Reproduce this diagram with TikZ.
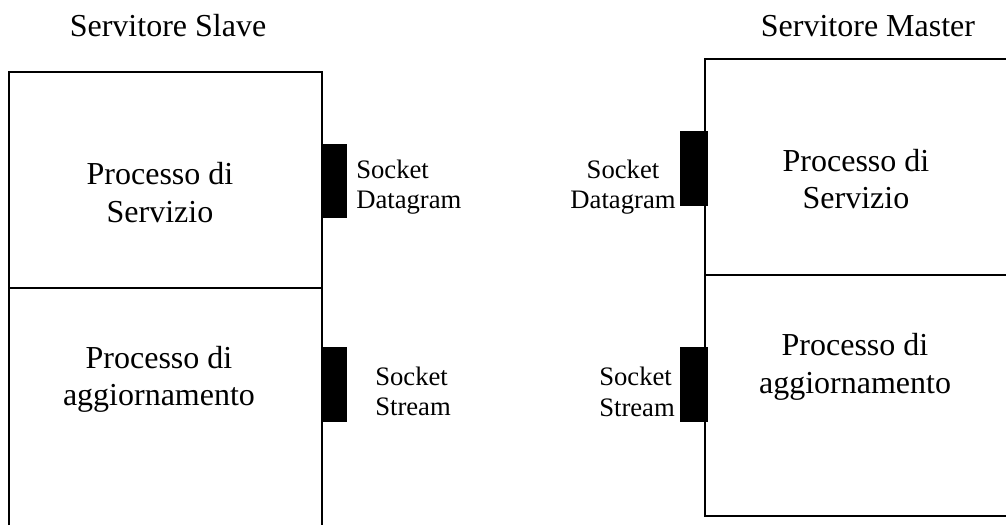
\documentclass[tikz,border=0pt]{standalone}
\usepackage{fontspec}
\setmainfont{Liberation Serif}
\begin{document}
\begin{tikzpicture}[x=0.75pt,y=-0.75pt,
  frame/.style={line width=0.9pt,draw=black},
  sock/.style={fill=black,draw=black,line width=0.6pt},
  title/.style={inner sep=0pt,font=\fontsize{24}{28}\selectfont},
  proc/.style={inner sep=0pt,align=center,font=\fontsize{24}{28}\selectfont},
  slabel/.style={inner sep=0pt,font=\fontsize{20}{23}\selectfont}]
\useasboundingbox (0,0) rectangle (1006,525);

% Slave server frame
\draw[frame] (9,525) -- (9,72) -- (322,72) -- (322,525);
\draw[frame] (9,288) -- (322,288);
% Master server frame
\draw[frame] (1006,59) -- (705,59) -- (705,516) -- (1006,516);
\draw[frame] (705,275) -- (1006,275);

% sockets
\draw[sock] (321,144) rectangle (346,217);
\draw[sock] (321,347) rectangle (346,421);
\draw[sock] (680,131) rectangle (707,205);
\draw[sock] (680,347) rectangle (707,421);

% titles
\node[title,anchor=base] (tslave) at (168,36) {Servitore Slave};
\node[title,anchor=base] (tmaster) at (868,36) {Servitore Master};

% processes
\node[proc] (sserv) at (160,192.5) {Processo di\\Servizio};
\node[proc] (sagg) at (159,379.5) {Processo di\\aggiornamento};
\node[proc] (mserv) at (856,179) {Processo di\\Servizio};
\node[proc] (magg) at (855,367) {Processo di\\aggiornamento};

% socket labels
\node[slabel,align=left,anchor=west] (sdg) at (356,187) {Socket\\Datagram};
\node[slabel,align=left,anchor=west] (sst) at (375,391.5) {Socket\\Stream};
\node[slabel,align=center] (mdg) at (623,187) {Socket\\Datagram};
\node[slabel,align=left,anchor=west] (mst) at (599,392) {Socket\\Stream};
\end{tikzpicture}
\end{document}
